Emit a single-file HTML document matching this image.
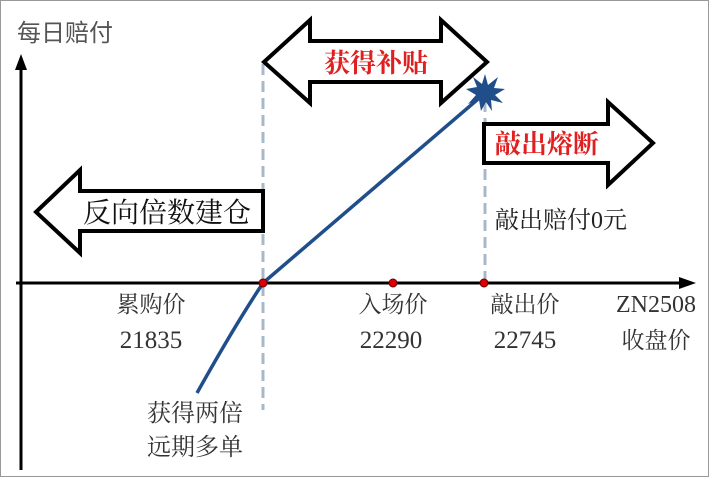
<!DOCTYPE html>
<html><head><meta charset="utf-8"><style>
html,body{margin:0;padding:0;background:#fff;}
svg{display:block;}
text{font-family:"Liberation Serif","Noto Serif CJK SC",serif;}
</style></head><body>
<svg width="709" height="477" viewBox="0 0 709 477" xmlns="http://www.w3.org/2000/svg">
<rect x="0.5" y="0.5" width="708" height="476" fill="#fff" stroke="#999" stroke-width="1"/>
<text x="17" y="41" font-size="24" fill="#555" style="font-family:'Liberation Sans','Noto Sans CJK SC',sans-serif">每日赔付</text>
<line x1="21" y1="470" x2="21" y2="68" stroke="#000" stroke-width="3"/>
<polygon points="21,54 15,70 27,70" fill="#000"/>
<line x1="16" y1="283" x2="680" y2="283" stroke="#000" stroke-width="3"/>
<polygon points="696,283 679,277 679,289" fill="#000"/>
<line x1="263" y1="64" x2="263" y2="410" stroke="#a9b8c8" stroke-width="3" stroke-dasharray="11,6"/>
<line x1="485" y1="84" x2="485" y2="283" stroke="#a9b8c8" stroke-width="3" stroke-dasharray="11,6"/>
<polygon points="264,62 310,20 310,41 441,41 441,20 487,62 441,103 441,82 310,82 310,103" fill="#fff" stroke="#000" stroke-width="4"/>
<text x="376" y="72" font-size="26" font-weight="bold" fill="#e02020" text-anchor="middle">获得补贴</text>
<polygon points="36,212 80,170 80,191 263,191 263,231 80,231 80,253" fill="#fff" stroke="#000" stroke-width="4"/>
<text x="167" y="222" font-size="28" fill="#111" text-anchor="middle">反向倍数建仓</text>
<polygon points="484,124 608,124 608,102 653,143 608,185 608,163 484,163" fill="#fff" stroke="#000" stroke-width="4"/>
<text x="547" y="153" font-size="26" font-weight="bold" fill="#e02020" text-anchor="middle">敲出熔断</text>
<text x="495" y="228" font-size="24" fill="#222">敲出赔付0元</text>
<line x1="263" y1="283" x2="484" y2="94" stroke="#1f4e8a" stroke-width="3.5"/>
<path d="M263,283 Q235,325 197,393" fill="none" stroke="#1f4e8a" stroke-width="3.5"/>
<polygon points="485,74 488,85 498,77 494,88 505,89 495,95 503,103 491,100 492,111 486,102 481,111 479,100 468,104 476,95 466,89 477,87 473,77 482,84" fill="#1f4e8a"/>
<circle cx="263" cy="283" r="4" fill="#d00" stroke="#600" stroke-width="1"/>
<circle cx="393" cy="283" r="4" fill="#d00" stroke="#600" stroke-width="1"/>
<circle cx="484" cy="283" r="4" fill="#d00" stroke="#600" stroke-width="1"/>
<g font-size="23" fill="#333" text-anchor="middle">
<text x="151" y="312">累购价</text>
<text x="151" y="348" font-size="25">21835</text>
<text x="393" y="312">入场价</text>
<text x="391" y="348" font-size="25">22290</text>
<text x="525" y="312">敲出价</text>
<text x="525" y="348" font-size="25">22745</text>
<text x="656" y="312" font-size="24">ZN2508</text>
<text x="656" y="348">收盘价</text>
<text x="195" y="421" font-size="24">获得两倍</text>
<text x="195" y="455" font-size="24">远期多单</text>
</g>
</svg>
</body></html>
